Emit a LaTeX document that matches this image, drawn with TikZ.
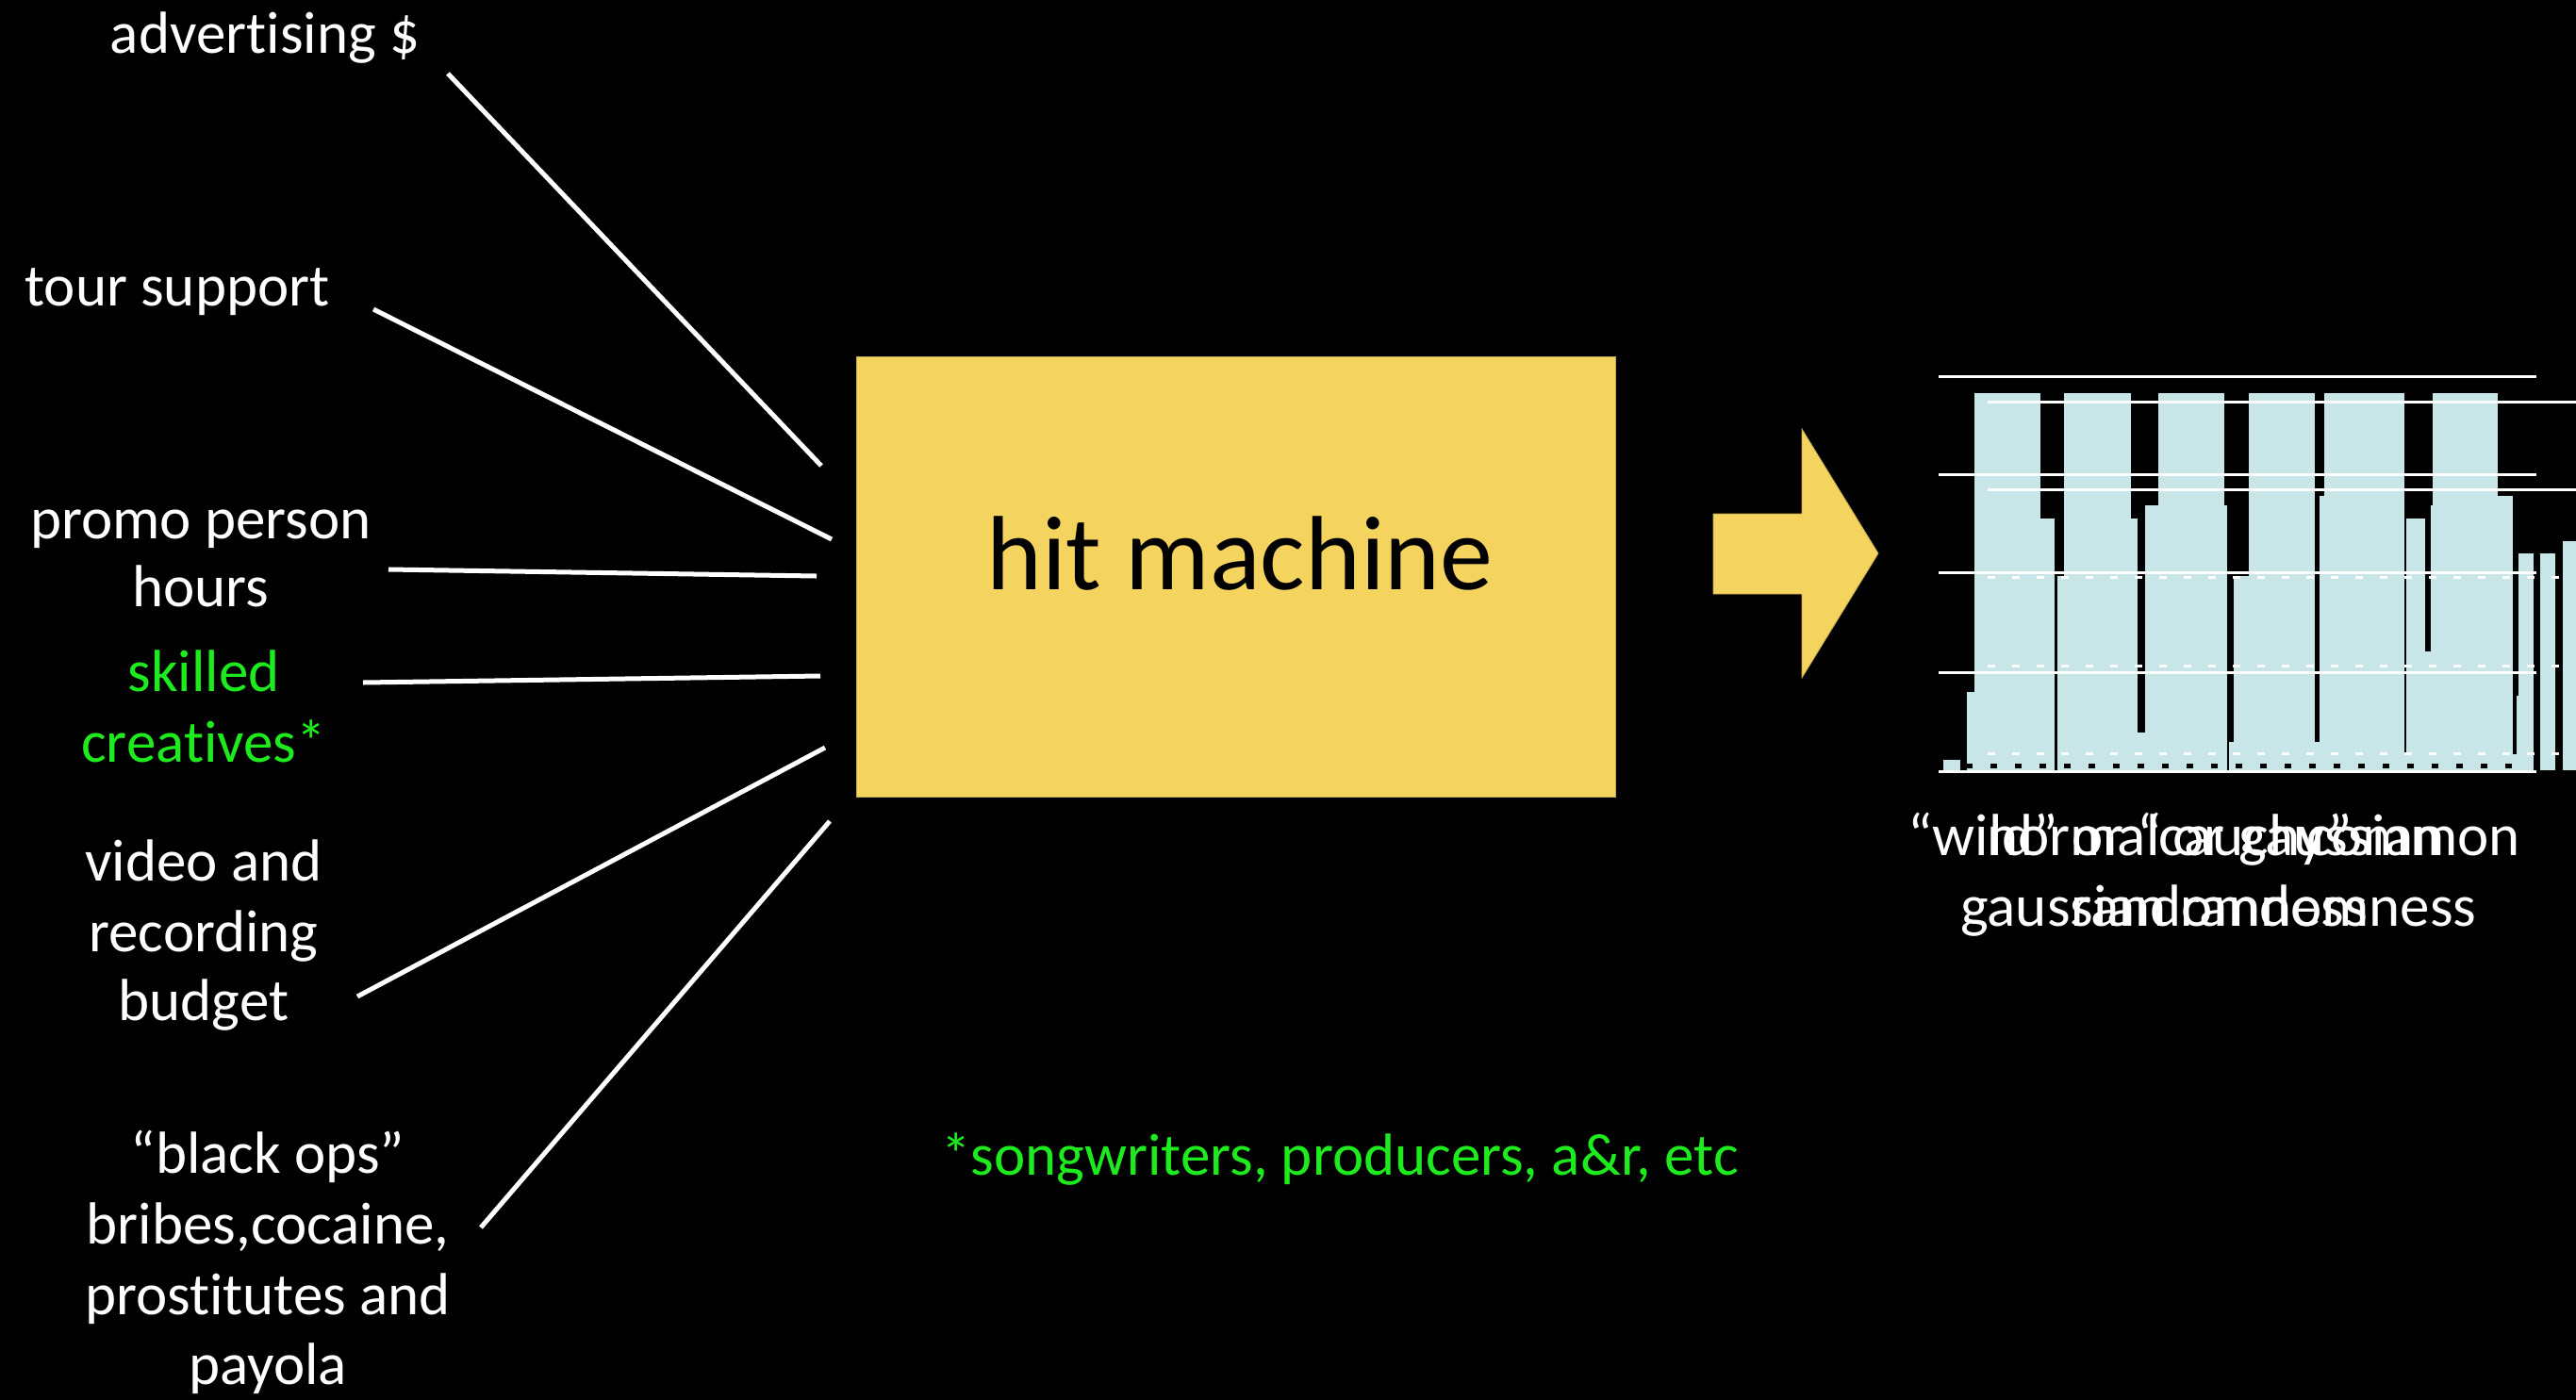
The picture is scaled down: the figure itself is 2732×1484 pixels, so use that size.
\documentclass[tikz,border=0pt]{standalone}
\usepackage{fontspec}
\setmainfont[Ligatures=NoCommon]{Carlito}
\definecolor{machineyellow}{RGB}{245,211,95}
\definecolor{barblue}{RGB}{200,230,232}
\definecolor{crewgreen}{RGB}{30,235,30}
\begin{document}
\begin{tikzpicture}[x=1pt,y=-1pt]
  \tikzstyle{lbl}=[text=white,inner sep=0pt,font=\fontsize{63}{75}\selectfont]
  \tikzstyle{feed}=[draw=white,line width=5pt]
  \tikzstyle{machine}=[fill=machineyellow,draw=machineyellow!80!black,line width=0.8pt,minimum width=805pt,minimum height=467pt,inner sep=0pt]
  \tikzstyle{grid}=[draw=white,line width=3pt]

  \useasboundingbox (0,0) rectangle (2732,1484);
  \fill[black] (-10,-10) rectangle (2742,1494);

  \foreach \name/\x/\y/\txt in {adv/281/56/advertising \$, tour/188/324/tour support,
      promo-1/213/571/promo person, promo-2/213/643/hours,
      vid-1/216/934/video and, vid-2/216/1009/recording, vid-3/216/1082/budget,
      ops-1/284/1244/“black ops”, ops-2/284/1319/{bribes,cocaine,},
      ops-3/284/1394/prostitutes and, ops-4/284/1468/payola}
    \node[lbl,anchor=base] (\name) at (\x,\y) {\txt};
  \foreach \name/\x/\y/\txt in {crew-1/216/733/skilled, crew-2/216/808/creatives*}
    \node[lbl,text=crewgreen,anchor=base] (\name) at (\x,\y) {\txt};

  \foreach \i/\ax/\ay/\bx/\by in {1/475/78/871/494, 2/396/328/882/572, 3/412/604/866/611,
      4/385/724/870/717, 5/379/1057/875/793, 6/510/1302/880/871}
    { \coordinate (src-\i) at (\ax,\ay);
      \coordinate (dst-\i) at (\bx,\by);
      \draw[feed] (src-\i) -- (dst-\i); }

  \node[machine] (hm) at (1311,611.5) {};
  \node[inner sep=0pt,anchor=base,font=\fontsize{112}{130}\selectfont] (hm-txt) at (1315,625) {hit machine};

  \fill[machineyellow,draw=machineyellow!80!black,line width=0.8pt]
    (1817,545) -- (1911,545) -- (1911,455) -- (1992,587) -- (1911,719) -- (1911,630) -- (1817,630) -- cycle;

  % bars, back to front
  \foreach \a/\b/\t in {2061/2079/806, 2086/2094/734, 2094/2164/417, 2164/2179/550,
      2182/2267/611, 2189/2260/417, 2260/2267/550, 2267/2275/777, 2275/2289/536,
      2289/2359/417, 2359/2362/536, 2364/2369/787, 2369/2455/611, 2385/2455/417,
      2455/2460/787, 2460/2465/526, 2465/2550/417, 2550/2552/800, 2552/2572/550,
      2572/2578/691, 2578/2580/536, 2580/2649/417, 2649/2665/526, 2665/2669/800,
      2669/2671/738, 2671/2687/587, 2694/2710/587, 2718/2732/574}
    \fill[barblue] (\a,\t) rectangle (\b,817);
  \draw[black,line width=5pt,dash pattern=on 7pt off 19pt] (2085,812) -- (2665,812);

  \foreach \y in {399,503,607,713,818}
    \draw[grid] (2056,\y) -- (2690,\y);
  \foreach \y in {426,519}
    \draw[grid] (2108,\y) -- (2732,\y);
  \foreach \y in {612,706,799}
    \draw[grid,dash pattern=on 8pt off 18pt] (2108,\y) -- (2732,\y);

  \node[lbl,anchor=base west] (cap-wild) at (2023,907) {“wild” or “cauchy”};
  \node[lbl,anchor=base west] (cap-norm) at (2107,907) {normal or gaussian};
  \node[lbl,anchor=base east] (cap-com) at (2673,907) {common};
  \node[lbl,anchor=base west] (cap-gauss) at (2079,982) {gaussian randomness};
  \node[lbl,anchor=base] (cap-rand) at (2354,982) {randomness};

  \node[lbl,text=crewgreen,anchor=base west] (note) at (998,1246) {*songwriters, producers, a\&r, etc};
\end{tikzpicture}
\end{document}
